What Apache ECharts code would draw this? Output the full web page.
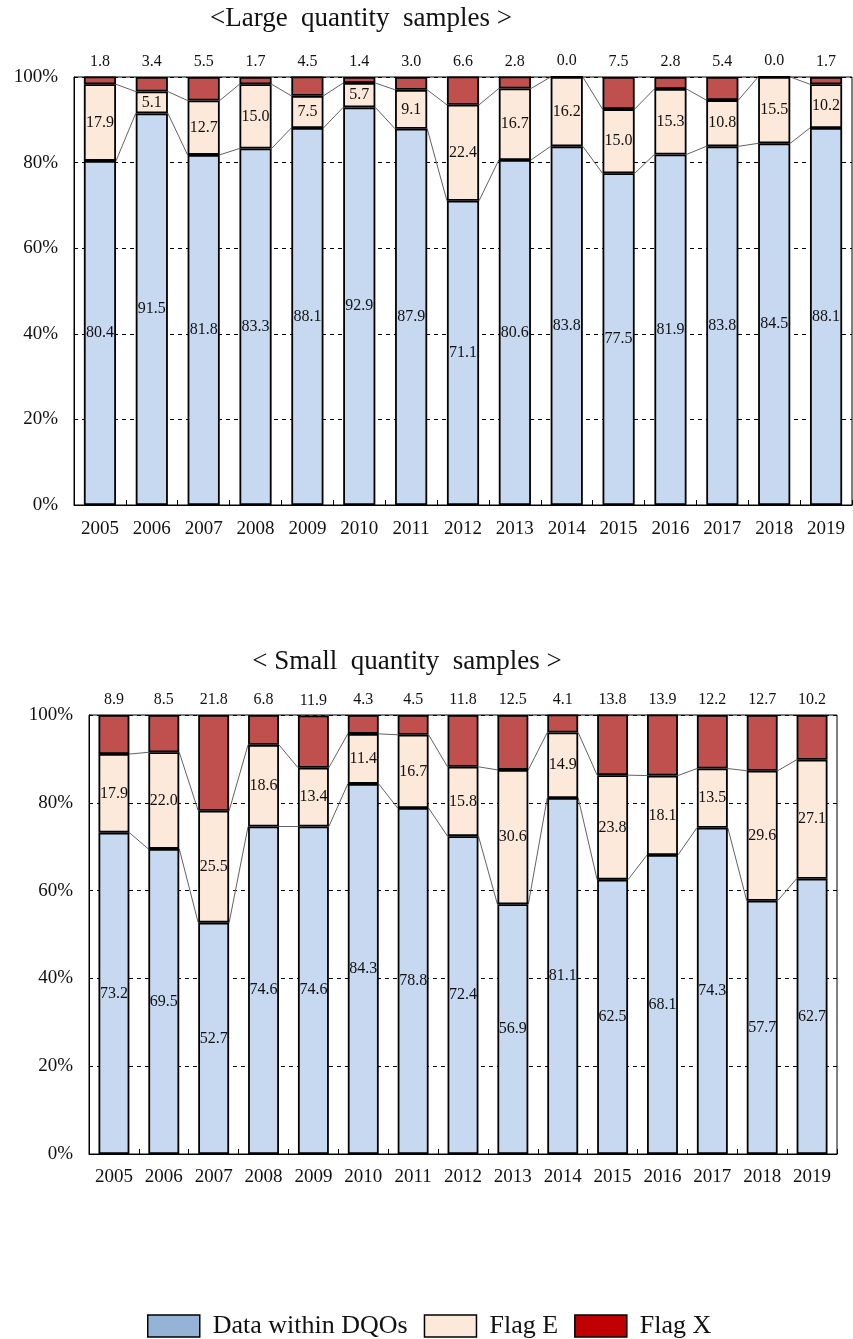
<!DOCTYPE html>
<html>
<head>
<meta charset="utf-8">
<script src="https://cdn.jsdelivr.net/npm/echarts@6/dist/echarts.min.js"></script>
<style>
html,body{margin:0;padding:0;background:#fff;}
#chart{width:853px;height:1339px;}
</style>
</head>
<body>
<div id="chart"></div>
<script>
var years = ['2005','2006','2007','2008','2009','2010','2011','2012','2013','2014','2015','2016','2017','2018','2019'];
var yTicks = [0, 20, 40, 60, 80, 100];

var largeDQO  = [80.4, 91.5, 81.8, 83.3, 88.1, 92.9, 87.9, 71.1, 80.6, 83.8, 77.5, 81.9, 83.8, 84.5, 88.1];
var largeE    = [17.9, 5.1, 12.7, 15.0, 7.5, 5.7, 9.1, 22.4, 16.7, 16.2, 15.0, 15.3, 10.8, 15.5, 10.2];
var largeX    = [1.8, 3.4, 5.5, 1.7, 4.5, 1.4, 3.0, 6.6, 2.8, 0.0, 7.5, 2.8, 5.4, 0.0, 1.7];

var smallDQO  = [73.2, 69.5, 52.7, 74.6, 74.6, 84.3, 78.8, 72.4, 56.9, 81.1, 62.5, 68.1, 74.3, 57.7, 62.7];
var smallE    = [17.9, 22.0, 25.5, 18.6, 13.4, 11.4, 16.7, 15.8, 30.6, 14.9, 23.8, 18.1, 13.5, 29.6, 27.1];
var smallX    = [8.9, 8.5, 21.8, 6.8, 11.9, 4.3, 4.5, 11.8, 12.5, 4.1, 13.8, 13.9, 12.2, 12.7, 10.2];

var titleLarge = '<Large  quantity  samples >';
var titleSmall = '< Small  quantity  samples >';
var seriesNames = ['Data within DQOs', 'Flag E', 'Flag X'];

var FONT = '"Liberation Serif", "Times New Roman", serif';
var BAR_W = 0.62;
var BORDER_W = 1.8;
var barColors = ['#C6D9F1', '#FDE9D9', '#C0504D'];
var legendColors = ['#95B3D7', '#FDE9D9', '#C00000'];

function fmt(p){ return Number(p.value).toFixed(1); }

function seriesLineData(a, b){
  // cumulative boundary values between adjacent categories
  var out = [[], []];
  for (var i = 0; i < a.length - 1; i++){
    out[0].push([i, a[i], a[i+1]]);
    out[1].push([i, a[i] + b[i], a[i+1] + b[i+1]]);
  }
  return out;
}

function renderSeriesLine(params, api){
  var i = api.value(0);
  var p0 = api.coord([i, api.value(1)]);
  var p1 = api.coord([i + 1, api.value(2)]);
  var bw = api.size([1, 0])[0] * BAR_W;
  return {
    type: 'line',
    shape: {x1: p0[0] + bw/2, y1: p0[1], x2: p1[0] - bw/2, y2: p1[1]},
    style: {stroke: '#626262', lineWidth: 1}
  };
}

function buildSeries(gi, dqo, e, x){
  var stack = 's' + gi;
  var common = {
    type: 'bar', stack: stack, xAxisIndex: gi, yAxisIndex: gi,
    barWidth: (BAR_W*100) + '%',
    emphasis: {disabled: true}
  };
  var s = [
    Object.assign({}, common, {name: seriesNames[0], data: dqo,
      itemStyle: {color: barColors[0], borderColor: '#000', borderWidth: BORDER_W},
      label: {show: true, position: 'inside', formatter: fmt, color: '#111', fontFamily: FONT, fontSize: 16}}),
    Object.assign({}, common, {name: seriesNames[1], data: e,
      itemStyle: {color: barColors[1], borderColor: '#000', borderWidth: BORDER_W},
      label: {show: true, position: 'inside', formatter: fmt, color: '#111', fontFamily: FONT, fontSize: 16}}),
    Object.assign({}, common, {name: seriesNames[2], data: x,
      itemStyle: {color: barColors[2], borderColor: '#000', borderWidth: BORDER_W},
      label: {show: true, position: 'top', distance: 7, formatter: fmt, color: '#111', fontFamily: FONT, fontSize: 16}})
  ];
  var ld = seriesLineData(dqo, e);
  ld.forEach(function(d){
    s.push({type: 'custom', xAxisIndex: gi, yAxisIndex: gi, data: d,
      renderItem: renderSeriesLine, silent: true, z: 1});
  });
  return s;
}

function xAxis(gi, margin){
  return {
    type: 'category', gridIndex: gi, data: years,
    axisLine: {lineStyle: {color: '#000', width: 1}},
    axisTick: {show: true, inside: true, length: 5, lineStyle: {color: '#000'}},
    axisLabel: {color: '#111', fontFamily: FONT, fontSize: 19, margin: margin}
  };
}
function yAxis(gi){
  return {
    type: 'value', gridIndex: gi, min: yTicks[0], max: yTicks[yTicks.length-1],
    interval: yTicks[1] - yTicks[0],
    axisLine: {show: true, lineStyle: {color: '#000'}},
    axisTick: {show: false},
    axisLabel: {color: '#111', fontFamily: FONT, fontSize: 19, margin: 16, formatter: '{value}%'},
    splitLine: {show: true, lineStyle: {color: '#000', type: [4, 4], width: 1}}
  };
}

var chart = echarts.init(document.getElementById('chart'), null, {renderer: 'canvas'});
chart.setOption({
  animation: false,
  backgroundColor: '#fff',
  textStyle: {fontFamily: FONT},
  grid: [
    {left: 74, right: 1, top: 77, height: 428, show: true, borderColor: '#000', borderWidth: 1, containLabel: false},
    {left: 89, right: 16, top: 715, height: 439, show: true, borderColor: '#000', borderWidth: 1, containLabel: false}
  ],
  xAxis: [xAxis(0, 15), xAxis(1, 14)],
  yAxis: [yAxis(0), yAxis(1)],
  legend: {
    left: 147, top: 1313, padding: 0,
    itemWidth: 52, itemHeight: 22, itemGap: 16,
    icon: 'rect',
    textStyle: {fontFamily: FONT, fontSize: 26, color: '#111', padding: [0, 0, 0, 8]},
    data: seriesNames.map(function(n, k){
      return {name: n, itemStyle: {color: legendColors[k], borderColor: '#000', borderWidth: 1.5}};
    })
  },
  graphic: [
    {type: 'text', x: 361, y: 19, style: {text: titleLarge, align: 'center', verticalAlign: 'middle', fontFamily: FONT, fontSize: 27, fill: '#111'}},
    {type: 'text', x: 407, y: 662, style: {text: titleSmall, align: 'center', verticalAlign: 'middle', fontFamily: FONT, fontSize: 27, fill: '#111'}}
  ],
  series: buildSeries(0, largeDQO, largeE, largeX).concat(buildSeries(1, smallDQO, smallE, smallX))
});
</script>
</body>
</html>
